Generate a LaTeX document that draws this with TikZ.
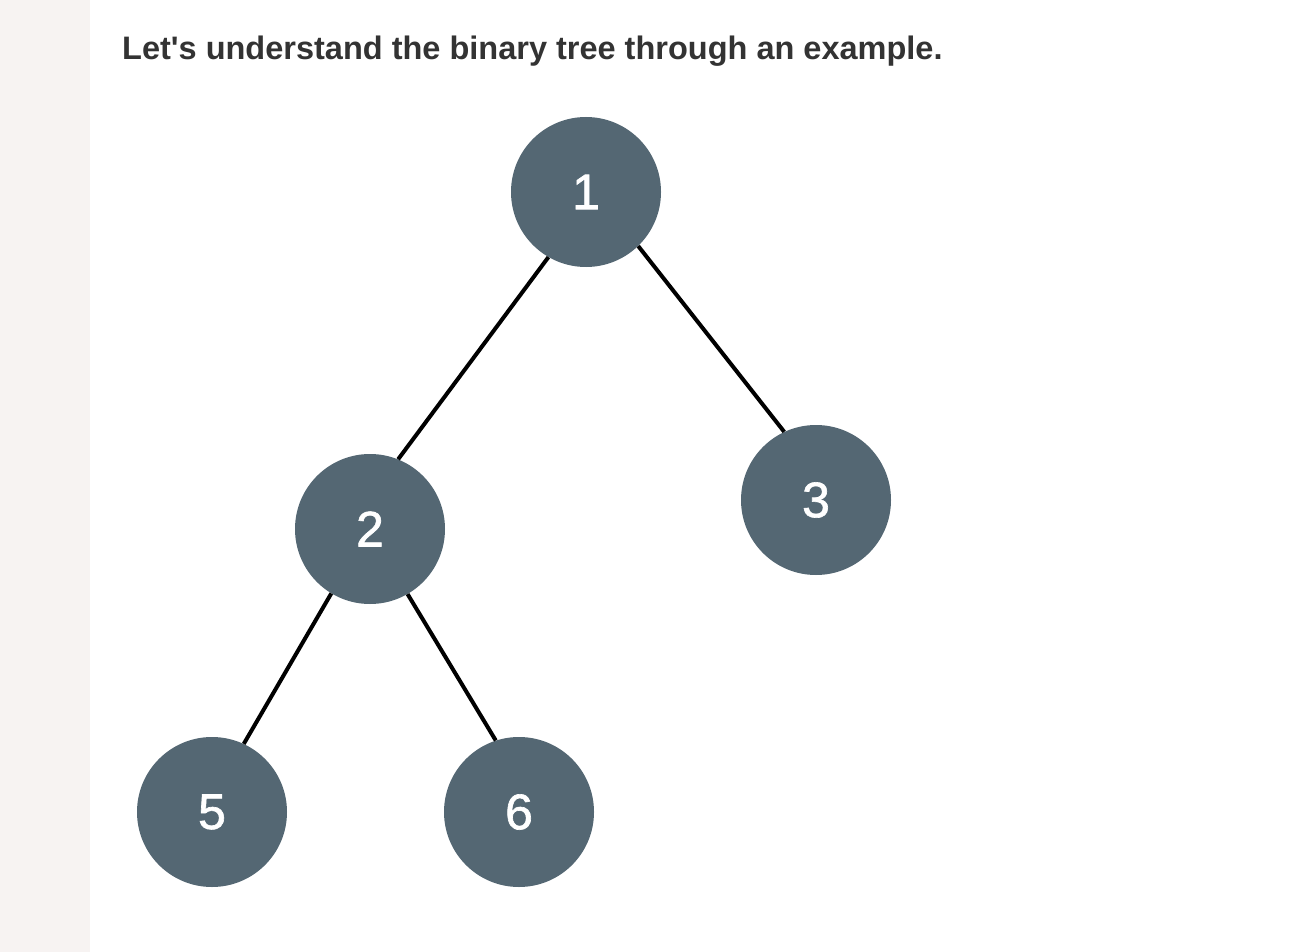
\documentclass[tikz,border=0pt]{standalone}
\usepackage{fontspec}
\setmainfont{Liberation Sans}
\newfontfamily\digitfont[FakeBold=1.3]{Liberation Sans}
\definecolor{nodefill}{HTML}{546773}
\definecolor{strip}{HTML}{F7F3F2}
\definecolor{titlecol}{HTML}{333333}
\begin{document}
\begin{tikzpicture}[x=1pt,y=-1pt,
  treenode/.style={circle,fill=nodefill,minimum size=150pt,inner sep=0pt,text=white,font=\digitfont\fontsize{50}{50}\selectfont},
  edge/.style={line width=4pt,black}]
\useasboundingbox (0,0) rectangle (1296,952);
\fill[white] (0,0) rectangle (1296,952);
\fill[strip] (0,0) rectangle (90,952);
\node[anchor=base west,inner sep=0pt,text=titlecol,font=\bfseries\fontsize{32.5}{32.5}\selectfont] (title) at (122,60) {Let\textquotesingle s understand the binary tree through an example.};
\node[treenode] (n1) at (586,192) {1};
\node[treenode] (n2) at (370,529) {2};
\node[treenode] (n3) at (816,500) {3};
\node[treenode] (n5) at (212,812) {5};
\node[treenode] (n6) at (519,812) {6};
\draw[edge] (n1.240.7) -- (n2.68.6);
\draw[edge] (n1.314.5) -- (n3.115.9);
\draw[edge] (n2.239.3) -- (n5.65.2);
\draw[edge] (n2.300.4) -- (n6.108.2);
\end{tikzpicture}
\end{document}
